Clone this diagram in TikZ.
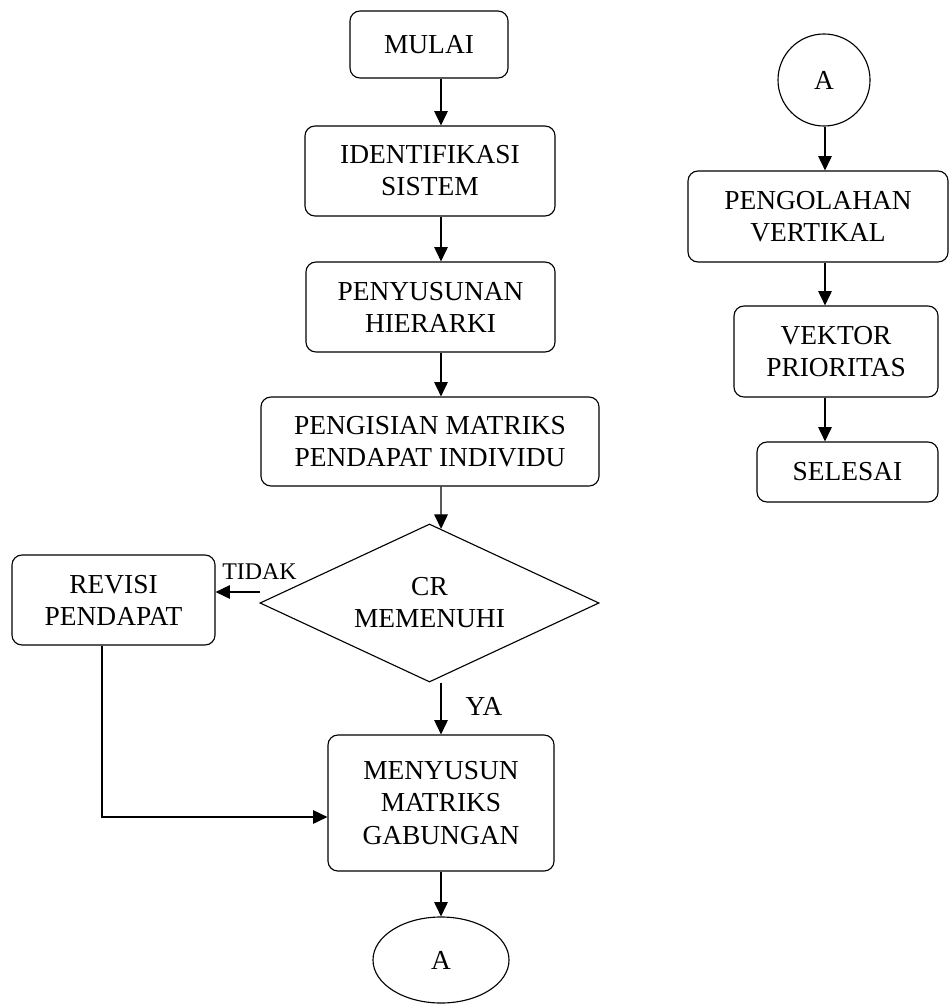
\documentclass[tikz,border=0pt]{standalone}
\usepackage{fontspec}
\setmainfont{Liberation Serif}
\usetikzlibrary{shapes.geometric, arrows.meta, calc}

\begin{document}
\begin{tikzpicture}[x=0.025cm, y=-0.025cm, >={Triangle[length=0.36cm, width=0.34cm]}, line width=0.8pt,
    proses/.style={draw, rounded corners=0.25cm, align=center, inner sep=0pt,
        font=\fontsize{19.5}{22.8}\selectfont},
    keputusan/.style={draw, diamond, aspect=2.15, align=center, inner sep=0pt,
        font=\fontsize{19.5}{22.8}\selectfont},
    penghubung/.style={draw, inner sep=0pt, font=\fontsize{19.5}{22.8}\selectfont}]
    \useasboundingbox (0,0) rectangle (949,1004);

    % Nodes kolom kiri
    \node[proses, minimum width=3.95cm, minimum height=1.675cm] (mulai) at (429,44.5) {MULAI};
    \node[proses, minimum width=6.25cm, minimum height=2.25cm] (identifikasi) at (430,171) {IDENTIFIKASI\\SISTEM};
    \node[proses, minimum width=6.225cm, minimum height=2.25cm] (penyusunan) at (430.5,307) {PENYUSUNAN\\HIERARKI};
    \node[proses, minimum width=8.45cm, minimum height=2.225cm] (pengisian) at (430,441.5) {PENGISIAN MATRIKS\\PENDAPAT INDIVIDU};
    \node[keputusan, minimum width=8.475cm, minimum height=3.95cm] (cr) at (429.5,603) {CR\\MEMENUHI};
    \node[proses, minimum width=5.075cm, minimum height=2.25cm] (revisi) at (113.5,600) {REVISI\\PENDAPAT};
    \node[proses, minimum width=5.65cm, minimum height=3.4cm] (menyusun) at (441,803) {MENYUSUN\\MATRIKS\\GABUNGAN};
    \node[penghubung, ellipse, minimum width=3.4cm, minimum height=2.15cm] (a2) at (441,960) {A};

    % Nodes kolom kanan
    \node[penghubung, circle, minimum size=2.3cm] (a1) at (824,80) {A};
    \node[proses, minimum width=6.5cm, minimum height=2.275cm] (pengolahan) at (818,216.5) {PENGOLAHAN\\VERTIKAL};
    \node[proses, minimum width=5.1cm, minimum height=2.275cm] (vektor) at (836,351.5) {VEKTOR\\PRIORITAS};
    \node[proses, minimum width=4.525cm, minimum height=1.5cm] (selesai) at (847.5,472) {SELESAI};

    % Labels
    \node[font=\fontsize{17}{20}\selectfont, inner sep=0pt] (tidak) at (259.5,572) {TIDAK};
    \node[font=\fontsize{19.5}{22.8}\selectfont, inner sep=0pt] (ya) at (484,706) {YA};

    % Connections
    \coordinate (kiri) at (441,0);
    \coordinate (kanan) at (825,0);
    \coordinate (tdk) at (260,592);
    \coordinate (belok) at (102,817);

    \draw[->] (mulai.south -| kiri) -- (identifikasi.north -| kiri);
    \draw[->] (identifikasi.south -| kiri) -- (penyusunan.north -| kiri);
    \draw[->] (penyusunan.south -| kiri) -- (pengisian.north -| kiri);
    \draw[->] (pengisian.south -| kiri) -- ($(cr.north)!0.068!(cr.east)$);
    \draw[->] (cr.south -| kiri) -- (menyusun.north -| kiri);
    \draw[->] (tdk) -- (revisi.east |- tdk);
    \draw[->] (revisi.south -| belok) |- (menyusun.west |- belok);
    \draw[->] (menyusun.south -| kiri) -- (a2.north -| kiri);

    \draw[->] (a1.south -| kanan) -- (pengolahan.north -| kanan);
    \draw[->] (pengolahan.south -| kanan) -- (vektor.north -| kanan);
    \draw[->] (vektor.south -| kanan) -- (selesai.north -| kanan);
\end{tikzpicture}
\end{document}
